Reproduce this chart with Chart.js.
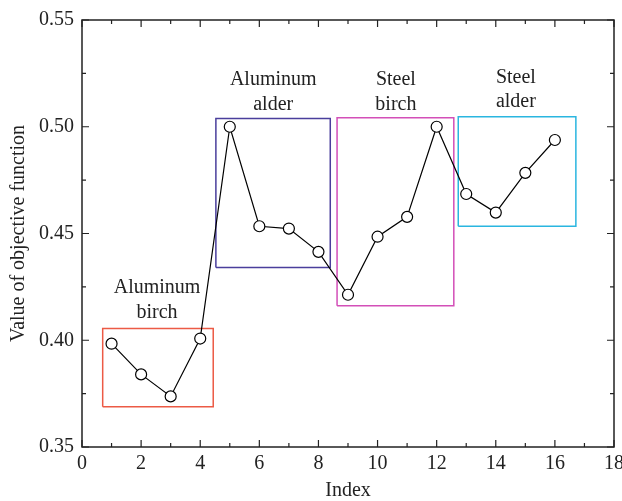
<!DOCTYPE html>
<html>
<head>
<meta charset="utf-8">
<script src="https://cdn.jsdelivr.net/npm/chart.js@4"></script>
<style>
  html, body { margin: 0; padding: 0; background: #fff; }
  #wrap { width: 622px; height: 501px; }
</style>
</head>
<body>
<div id="wrap"><canvas id="objChart" width="622" height="501"></canvas></div>
<script>
// data
const indexes = [1, 2, 3, 4, 5, 6, 7, 8, 9, 10, 11, 12, 13, 14, 15, 16];
const objective = [0.3984, 0.3840, 0.3737, 0.4008, 0.5000, 0.4534, 0.4523, 0.4414,
                   0.4213, 0.4485, 0.4578, 0.5000, 0.4685, 0.4598, 0.4784, 0.4938];

// group boxes: [xMin, xMax, yMin, yMax]
const groupNames = ['Aluminum birch', 'Aluminum alder', 'Steel birch', 'Steel alder'];
const groupBoxes = [
    [0.70, 4.44, 0.3689, 0.4055],
    [4.53, 8.40, 0.4341, 0.5039],
    [8.63, 12.58, 0.4162, 0.5042],
    [12.73, 16.71, 0.4534, 0.5047]
];
const groupColors = ['#ec5a45', '#4a3f9c', '#d34fb8', '#2ab6e0'];
// label position (x centre, y of first line, y of second line)
const groupLabelPos = [
    [2.54, 0.4246, 0.4131],
    [6.47, 0.5219, 0.5102],
    [10.62, 0.5219, 0.5102],
    [14.68, 0.5231, 0.5117]
];

const xTicks = [0, 2, 4, 6, 8, 10, 12, 14, 16, 18];
const yTicks = [0.35, 0.40, 0.45, 0.50, 0.55];

const FONT = '"Liberation Serif", "DejaVu Serif", serif';

function boxPoints(b) {
    return [
        { x: b[0], y: b[2] }, { x: b[1], y: b[2] },
        { x: b[1], y: b[3] }, { x: b[0], y: b[3] },
        { x: b[0], y: b[2] }
    ];
}

const datasets = [{
    label: 'objective',
    data: indexes.map((x, i) => ({ x: x, y: objective[i] })),
    borderColor: '#000',
    borderWidth: 1.2,
    pointRadius: 5.5,
    pointBackgroundColor: '#fff',
    pointBorderColor: '#000',
    pointBorderWidth: 1.2,
    order: 0
}];
groupBoxes.forEach((b, i) => {
    datasets.push({
        label: groupNames[i],
        data: boxPoints(b),
        borderColor: groupColors[i],
        borderWidth: 1.5,
        pointRadius: 0,
        fill: false,
        order: 1
    });
});

// frame with inward ticks on all four sides + group labels
const framePlugin = {
    id: 'frame',
    afterDatasetsDraw(chart) {
        const ctx = chart.ctx;
        const a = chart.chartArea;
        const xs = chart.scales.x, ys = chart.scales.y;
        ctx.save();
        ctx.strokeStyle = '#222';
        ctx.lineWidth = 1.5;
        ctx.strokeRect(a.left, a.top, a.right - a.left, a.bottom - a.top);
        ctx.lineWidth = 1.2;
        ctx.beginPath();
        for (let v = 0; v <= 18; v += 1) {
            const px = xs.getPixelForValue(v);
            const len = v % 2 === 0 ? 7 : 4;
            ctx.moveTo(px, a.bottom); ctx.lineTo(px, a.bottom - len);
            ctx.moveTo(px, a.top); ctx.lineTo(px, a.top + len);
        }
        for (let k = 0; k <= 8; k++) {
            const v = 0.35 + k * 0.025;
            const py = ys.getPixelForValue(v);
            const len = k % 2 === 0 ? 7 : 4;
            ctx.moveTo(a.left, py); ctx.lineTo(a.left + len, py);
            ctx.moveTo(a.right, py); ctx.lineTo(a.right - len, py);
        }
        ctx.stroke();

        ctx.fillStyle = '#222';
        ctx.font = '20px ' + FONT;
        ctx.textAlign = 'center';
        ctx.textBaseline = 'middle';
        groupNames.forEach((name, i) => {
            const parts = name.split(' ');
            const p = groupLabelPos[i];
            const cx = xs.getPixelForValue(p[0]);
            ctx.fillText(parts[0], cx, ys.getPixelForValue(p[1]));
            ctx.fillText(parts[1], cx, ys.getPixelForValue(p[2]));
        });
        ctx.restore();
    }
};

new Chart(document.getElementById('objChart').getContext('2d'), {
    type: 'line',
    data: { datasets: datasets },
    options: {
        responsive: false,
        animation: false,
        layout: { padding: { top: 6, right: 0, left: 7, bottom: 0 } },
        plugins: { legend: { display: false }, tooltip: { enabled: false } },
        scales: {
            x: {
                type: 'linear',
                min: 0, max: 18,
                afterBuildTicks: s => { s.ticks = xTicks.map(v => ({ value: v })); },
                afterFit: s => { s.paddingRight = 8; },
                grid: { display: false, drawTicks: false },
                border: { display: false },
                ticks: { color: '#222', font: { family: FONT, size: 20 }, padding: 5, maxRotation: 0 },
                title: { display: true, text: 'Index', color: '#222', font: { family: FONT, size: 20, lineHeight: 1 }, padding: { top: 0, bottom: 0 } }
            },
            y: {
                type: 'linear',
                min: 0.35, max: 0.55,
                afterBuildTicks: s => { s.ticks = yTicks.map(v => ({ value: v })); },
                grid: { display: false, drawTicks: false },
                border: { display: false },
                ticks: { color: '#222', font: { family: FONT, size: 20 }, padding: 8, callback: v => v.toFixed(2) },
                title: { display: true, text: 'Value of objective function', color: '#222', font: { family: FONT, size: 20 }, padding: { top: 0, bottom: 0 } }
            }
        }
    },
    plugins: [framePlugin]
});
</script>
</body>
</html>
